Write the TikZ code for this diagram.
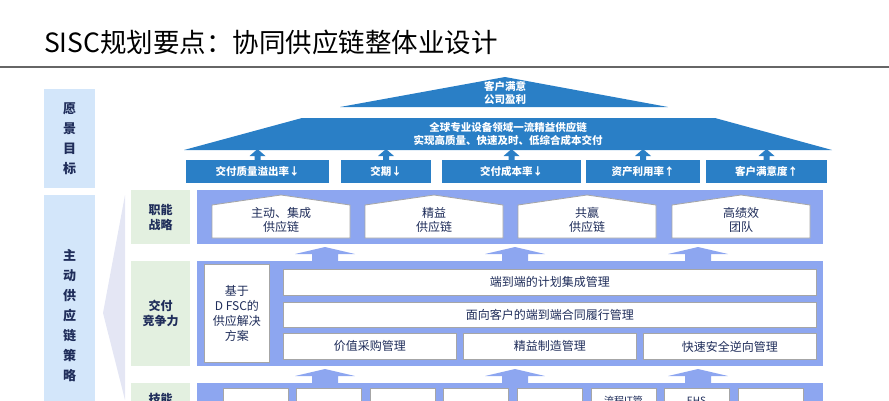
\documentclass[tikz,border=0pt]{standalone}
\usepackage{fontspec}
\setmainfont{Noto Sans CJK SC}
\definecolor{kblue}{HTML}{2A7FC6}
\definecolor{lav}{HTML}{8DA6F0}
\definecolor{lblue}{HTML}{D3E6FA}
\definecolor{lgreen}{HTML}{E3F0E0}
\definecolor{navy}{HTML}{1F2D5A}
\definecolor{pale}{HTML}{E4E6F4}
\tikzset{
 kpi/.style={fill=kblue,draw=none,text=white,font=\fontsize{10.5}{12}\selectfont\bfseries,inner sep=0pt},
 wbox/.style={fill=white,draw=gray!70,line width=0.8pt,text=navy,font=\fontsize{12}{14}\selectfont,inner sep=0pt},
 lab/.style={fill=lgreen,draw=none,text=navy,font=\fontsize{12}{15}\selectfont\bfseries,align=center,inner sep=0pt},
 side/.style={fill=lblue,draw=none,text=navy,font=\fontsize{13}{20}\selectfont\bfseries,align=center,inner sep=0pt},
 tri/.style={fill=kblue,draw=none},
 wt/.style={text=white,font=\fontsize{10.5}{13.5}\selectfont\bfseries,align=center},
}
\begin{document}
\begin{tikzpicture}[x=1pt,y=-1pt]
\useasboundingbox (0,0) rectangle (889,400);
\clip (0,0) rectangle (889,400);
% title
\node[anchor=base west,font=\fontsize{26.5}{28}\selectfont,inner sep=0pt] (title) at (44,52) {SISC规划要点：协同供应链整体业设计};
\draw[gray!80!black,line width=2pt] (0,67) -- (889,67);
% side labels
\node[side,minimum width=51,minimum height=99,anchor=north west] (s1) at (44,89) {愿\\景\\目\\标};
\node[side,minimum width=51,minimum height=215,anchor=north west] (s2) at (44,195) {};
\node[side,anchor=center] (s2t) at (69.5,316) {主\\动\\供\\应\\链\\策\\略};
\fill[pale] (125,195) -- (103,313) -- (125,400) -- cycle;
% top triangle and trapezoid
\fill[tri] (505,77) -- (668,107) -- (340,107) -- cycle;
\node[wt] (t1) at (505,93) {客户满意\\公司盈利};
\fill[tri] (302,118) -- (715,118) -- (832,150) -- (184,150) -- cycle;
\node[wt] (t2) at (508,134) {全球专业设备领域一流精益供应链\\实现高质量、快速及时、低综合成本交付};
% KPI boxes
\foreach \a/\b/\t/\n in {186/329/交付质量溢出率↓/k1, 341/431/交期↓/k2, 442/581/交付成本率↓/k3, 586/700/资产利用率↑/k4, 706/827/客户满意度↑/k5}{
  \node[kpi,minimum width=\b-\a,minimum height=23,anchor=north west] (\n) at (\a,160) {\t};
  \fill[kblue] ({(\a+\b)/2-8},156) -- ({(\a+\b)/2},149) -- ({(\a+\b)/2+8},156) -- ({(\a+\b)/2+3},156) -- ({(\a+\b)/2+3},160) -- ({(\a+\b)/2-3},160) -- ({(\a+\b)/2-3},156) -- cycle;
}
% row labels
\node[lab,minimum width=59,minimum height=54,anchor=north west] (l1) at (131,190) {职能\\战略};
\node[lab,minimum width=59,minimum height=105,anchor=north west] (l2) at (131,261) {交付\\竞争力};
\node[lab,minimum width=59,minimum height=30,anchor=north west] (l3) at (131,383) {};
\node[text=navy,font=\fontsize{12}{15}\selectfont\bfseries,anchor=north] (l3t) at (160.5,390) {技能};
% lavender bands
\fill[lav] (197,190) rectangle (823,244);
\fill[lav] (197,261) rectangle (823,366);
\fill[lav] (197,383) rectangle (823,410);
% houses
\foreach \a/\t/\n in {212/{主动、集成\\供应链}/h1, 365/{精益\\供应链}/h2, 518/{共赢\\供应链}/h3, 672/{高绩效\\团队}/h4}{
  \draw[fill=white,draw=gray!70,line width=0.8pt] (\a,238) -- (\a,205) -- (\a+69,195) -- (\a+138,205) -- (\a+138,238) -- cycle;
  \node[text=navy,font=\fontsize{12}{14}\selectfont,align=center] (\n) at (\a+69,220) {\t};
}
% arrows between rows
\foreach \x in {325,515,698}{
  \fill[lav] (\x-30,254) -- (\x,247) -- (\x+30,254) -- (\x+13,254) -- (\x+13,261) -- (\x-13,261) -- (\x-13,254) -- cycle;
  \fill[lav] (\x-30,376) -- (\x,369) -- (\x+30,376) -- (\x+13,376) -- (\x+13,383) -- (\x-13,383) -- (\x-13,376) -- cycle;
}
% row 2
\node[wbox,minimum width=65,minimum height=98,anchor=north west,font=\fontsize{12}{15}\selectfont,align=center] (dfsc) at (204,264) {基于\\D FSC的\\供应解决\\方案};
\node[wbox,minimum width=533,minimum height=26,anchor=north west] (b1) at (283,269) {端到端的计划集成管理};
\node[wbox,minimum width=533,minimum height=25,anchor=north west] (b2) at (283,302) {面向客户的端到端合同履行管理};
\node[wbox,minimum width=173,minimum height=26,anchor=north west] (b3) at (283,333) {价值采购管理};
\node[wbox,minimum width=173,minimum height=26,anchor=north west] (b4) at (463,333) {精益制造管理};
\node[wbox,minimum width=173,minimum height=26,anchor=north west] (b5) at (643,333) {快速安全逆向管理};
% row 3
\foreach \a/\t/\n in {223//c1, 296//c2, 370//c3, 443//c4, 517//c5, 591/流程IT管/c6, 664/EHS/c7, 738//c8}{
  \node[wbox,minimum width=65,minimum height=30,anchor=north west] (\n) at (\a,388) {};
  \node[text=navy,font=\fontsize{10}{12}\selectfont,anchor=north] at (\a+32.5,393) {\t};
}
\end{tikzpicture}
\end{document}
